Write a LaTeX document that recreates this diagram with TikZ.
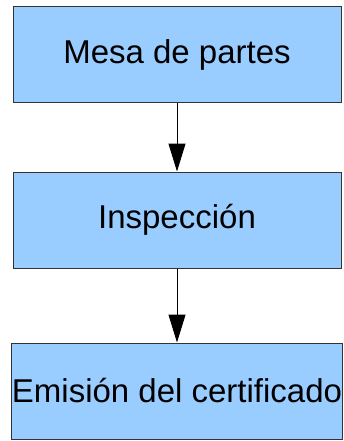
\documentclass[tikz,border=0pt]{standalone}
\usepackage{fontspec}
\setmainfont{Liberation Sans}
\usetikzlibrary{arrows.meta}
\definecolor{boxblue}{HTML}{99CCFF}
\definecolor{edge}{HTML}{333333}
\begin{document}
\begin{tikzpicture}[x=1pt,y=-1pt,
  stepbox/.style={draw=edge,line width=1pt,fill=boxblue,minimum width=328pt,minimum height=96pt,inner sep=0pt,font=\fontsize{33}{40}\selectfont},
  flow/.style={draw=black,line width=1pt,-{Triangle[length=28pt,width=17pt]}}]
\useasboundingbox (0,0) rectangle (344,441);
\node[stepbox] (a) at (177,55) {Mesa de partes};
\node[stepbox] (b) at (177,220) {Inspección};
\node[stepbox] (c) at (177,391) {Emisión del certificado};
\draw[flow] (a) -- (b);
\draw[flow] (b) -- (c);
\end{tikzpicture}
\end{document}
